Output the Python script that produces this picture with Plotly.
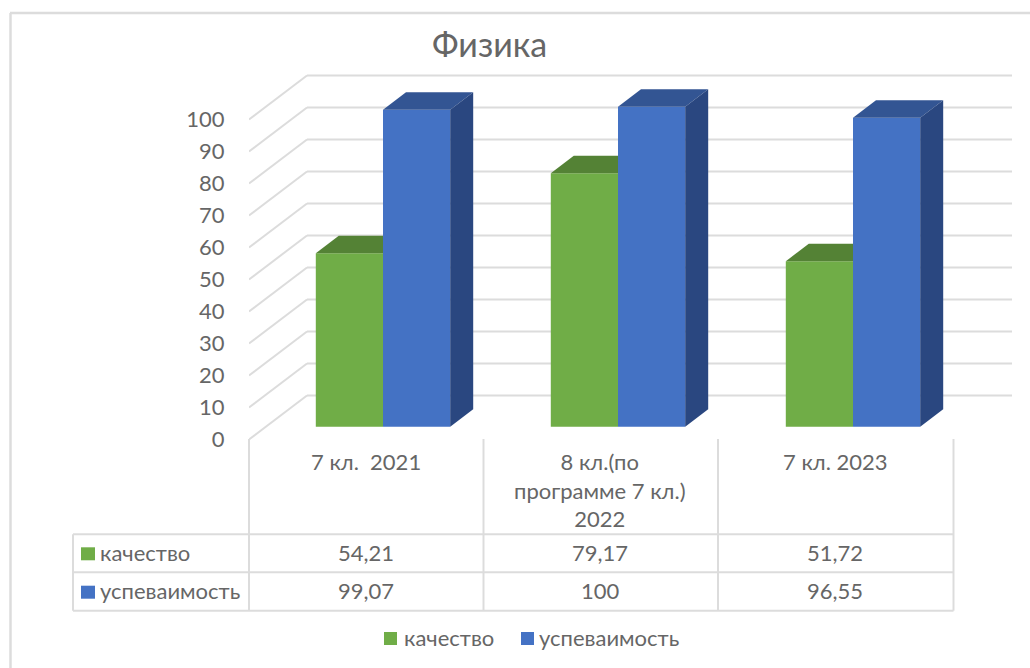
import plotly.graph_objects as go

# ---- data ----
title = "Физика"
categories = ["7 кл.  2021", "8 кл.(по<br>программе 7 кл.)<br>2022", "7 кл. 2023"]
series_names = ["качество", "успеваимость"]
quality = [54.21, 79.17, 51.72]
progress = [99.07, 100, 96.55]
tick_values = [0, 10, 20, 30, 40, 50, 60, 70, 80, 90, 100]

# ---- styles ----
FONT = "Lato"
TEXT = "#666666"
GRID = "#dcdcdc"
GREEN, GREEN_TOP = "#70ad47", "#548235"
BLUE, BLUE_TOP, BLUE_SIDE = "#4472c4", "#335593", "#2a4780"

W, H = 1030, 668
LEFT = 249            # x pixel of axis origin
CAT_W = 235           # pixels per category
Y0 = 439.5            # y pixel of value 0
SCALE = 3.2           # pixels per value unit

xu = lambda px: px / CAT_W           # pixel length -> x units
yu = lambda px: px / SCALE           # pixel length -> y units
paper_x = lambda p: (p - LEFT) / (W - LEFT)
paper_y = lambda p: 1 - p / H

WALL_DX, WALL_DY = xu(58), yu(44)
WALL_END = xu(1012 - LEFT)
BAR_W = xu(67.2)
BAR_SHIFT = xu(16.5)
BAR_BASE = yu(12.8)
DX, DY = xu(23), yu(17.5)

fig = go.Figure()
centers = [i + 0.5 + BAR_SHIFT for i in range(len(categories))]

# front faces
fig.add_bar(x=[c - BAR_W / 2 for c in centers], y=quality, base=BAR_BASE, width=BAR_W,
            marker=dict(color=GREEN, line=dict(width=0)), name=series_names[0],
            showlegend=False, hoverinfo="skip")
fig.add_bar(x=[c + BAR_W / 2 for c in centers], y=progress, base=BAR_BASE, width=BAR_W,
            marker=dict(color=BLUE, line=dict(width=0)), name=series_names[1],
            showlegend=False, hoverinfo="skip")

def face(xs, ys, color):
    fig.add_scatter(x=xs, y=ys, mode="lines", fill="toself", fillcolor=color,
                    line=dict(width=0, color=color), showlegend=False, hoverinfo="skip")

# depth faces
for c, q, p in zip(centers, quality, progress):
    top = q + BAR_BASE
    face([c - BAR_W, c - BAR_W + DX, c, c, c - BAR_W],
         [top, top + DY, top + DY, top, top], GREEN_TOP)
    top = p + BAR_BASE
    face([c, c + DX, c + BAR_W + DX, c + BAR_W, c],
         [top, top + DY, top + DY, top, top], BLUE_TOP)
    face([c + BAR_W, c + BAR_W + DX, c + BAR_W + DX, c + BAR_W, c + BAR_W],
         [BAR_BASE, BAR_BASE + DY, top + DY, top, BAR_BASE], BLUE_SIDE)

shapes = []
# walls
for t in tick_values:
    shapes.append(dict(type="line", xref="x", yref="y", layer="below", x0=0, y0=t,
                       x1=WALL_DX, y1=t + WALL_DY, line=dict(color=GRID, width=2)))
    shapes.append(dict(type="line", xref="x", yref="y", layer="below", x0=WALL_DX, y0=t + WALL_DY,
                       x1=WALL_END, y1=t + WALL_DY, line=dict(color=GRID, width=2)))

def pline(x0, y0, x1, y1, w=2):
    shapes.append(dict(type="line", xref="paper", yref="paper", x0=paper_x(x0), y0=paper_y(y0),
                       x1=paper_x(x1), y1=paper_y(y1), line=dict(color=GRID, width=w)))

def square(x0, y0, x1, y1, color):
    shapes.append(dict(type="rect", xref="paper", yref="paper", x0=paper_x(x0), y0=paper_y(y0),
                       x1=paper_x(x1), y1=paper_y(y1), fillcolor=color, line=dict(width=0)))

# outer frame
pline(10, 13, W, 13, 2.5)
pline(10.5, 13, 10.5, H, 2.5)

# data table
ROWS = [534.3, 572.3, 610.7]
COLS = [249, 483.5, 718, 953.5]
for r in ROWS:
    pline(73, r, COLS[-1], r)
pline(73, ROWS[0], 73, ROWS[-1])
for c in COLS:
    pline(c, 439, c, ROWS[-1])

square(81, 547.3, 95, 560.3, GREEN)
square(81, 585.7, 95, 598.7, BLUE)
square(384, 632, 397, 645, GREEN)
square(521, 632, 534, 645, BLUE)

annotations = []
def text(x, y, s, size=22, anchor="center", valign="middle", color=TEXT):
    annotations.append(dict(xref="paper", yref="paper", x=paper_x(x), y=paper_y(y), text=s,
                            showarrow=False, xanchor=anchor, yanchor=valign,
                            font=dict(family=FONT, size=size, color=color),
                            xshift=0, yshift=0, borderpad=0, borderwidth=0))

def fmt(v):
    return f"{v:.2f}".rstrip("0").rstrip(".").replace(".", ",")

text(489.5, 44, title, size=34)
for c, cat in zip([365.5, 600, 835], categories):
    text(c, 448, cat, valign="top")
for c, q, p in zip([365.5, 600, 835], quality, progress):
    text(c, 552, fmt(q))
    text(c, 590, fmt(p))
text(100, 552, series_names[0], anchor="left")
text(100, 590, series_names[1], anchor="left")
text(404, 637, series_names[0], anchor="left")
text(539, 637, series_names[1], anchor="left")

fig.update_layout(
    width=W, height=H, margin=dict(l=LEFT, r=0, t=0, b=0, pad=0),
    paper_bgcolor="white", plot_bgcolor="white",
    barmode="overlay", showlegend=False,
    shapes=shapes, annotations=annotations,
    xaxis=dict(visible=False, range=[0, xu(W - LEFT)], fixedrange=True),
    yaxis=dict(range=[(Y0 - H) / SCALE, Y0 / SCALE], tickmode="array", tickvals=tick_values,
               ticks="outside", ticklen=19, tickcolor="rgba(0,0,0,0)", showgrid=False,
               zeroline=False, showline=False, fixedrange=True,
               tickfont=dict(family=FONT, size=22, color=TEXT)),
)

fig.write_html("out.html", config=dict(displayModeBar=False),
               post_script="document.body.style.margin='0';document.body.style.overflow='hidden';")
